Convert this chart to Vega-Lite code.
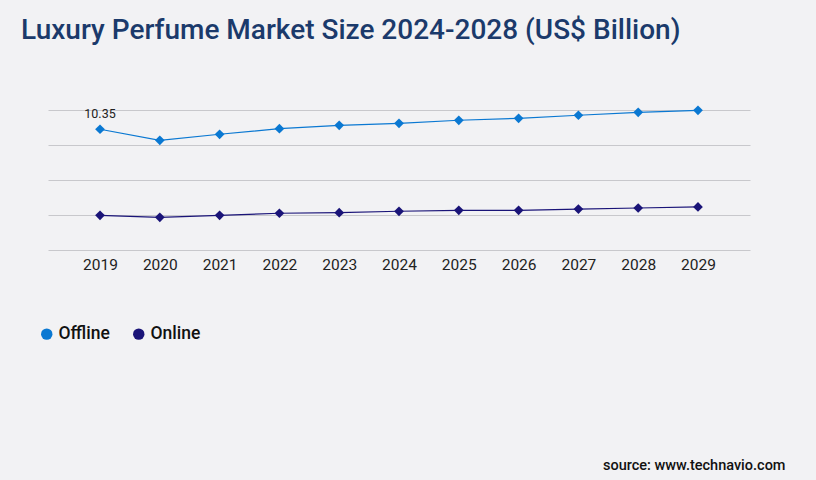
{
  "$schema": "https://vega.github.io/schema/vega-lite/v6.json",
  "width": 702,
  "height": 140,
  "autosize": {"type": "none"},
  "padding": {"left": 48, "top": 110, "right": 66, "bottom": 230},
  "background": "#f2f2f4",
  "title": {
    "text": "Luxury Perfume Market Size 2024-2028 (US$ Billion)",
    "anchor": "start",
    "frame": "group",
    "dx": -27,
    "offset": 60,
    "font": "Roboto",
    "fontSize": 28,
    "fontWeight": 500,
    "color": "#1b3a6b"
  },
  "data": {
    "values": [
      {"year": "2019", "segment": "Offline", "value": 10.35},
      {"year": "2020", "segment": "Offline", "value": 9.4},
      {"year": "2021", "segment": "Offline", "value": 9.92},
      {"year": "2022", "segment": "Offline", "value": 10.4},
      {"year": "2023", "segment": "Offline", "value": 10.69},
      {"year": "2024", "segment": "Offline", "value": 10.86},
      {"year": "2025", "segment": "Offline", "value": 11.12},
      {"year": "2026", "segment": "Offline", "value": 11.29},
      {"year": "2027", "segment": "Offline", "value": 11.55},
      {"year": "2028", "segment": "Offline", "value": 11.8},
      {"year": "2029", "segment": "Offline", "value": 11.97},
      {"year": "2019", "segment": "Online", "value": 2.97},
      {"year": "2020", "segment": "Online", "value": 2.8},
      {"year": "2021", "segment": "Online", "value": 2.97},
      {"year": "2022", "segment": "Online", "value": 3.15},
      {"year": "2023", "segment": "Online", "value": 3.2},
      {"year": "2024", "segment": "Online", "value": 3.32},
      {"year": "2025", "segment": "Online", "value": 3.4},
      {"year": "2026", "segment": "Online", "value": 3.4},
      {"year": "2027", "segment": "Online", "value": 3.51},
      {"year": "2028", "segment": "Online", "value": 3.6},
      {"year": "2029", "segment": "Online", "value": 3.69}
    ]
  },
  "encoding": {
    "x": {
      "field": "year",
      "type": "ordinal",
      "scale": {"type": "point", "padding": 0.87},
      "axis": {
        "title": "source: www.technavio.com",
        "titleX": 737,
        "titleY": 222,
        "titleAlign": "right",
        "titleBaseline": "bottom",
        "titleFont": "Roboto",
        "titleFontSize": 14.5,
        "titleFontWeight": 500,
        "titleColor": "#111111",
        "labelAngle": 0,
        "labelFont": "Roboto",
        "labelFontSize": 15.5,
        "labelColor": "#222222",
        "labelPadding": 7,
        "ticks": false,
        "domain": false,
        "grid": false
      }
    },
    "y": {
      "field": "value",
      "type": "quantitative",
      "scale": {"domain": [0, 12]},
      "axis": {
        "title": null,
        "values": [0, 3, 6, 9, 12],
        "labels": false,
        "ticks": false,
        "domain": false,
        "gridColor": "#c8c8cc",
        "gridWidth": 1
      }
    },
    "color": {
      "field": "segment",
      "type": "nominal",
      "scale": {"domain": ["Offline", "Online"], "range": ["#0a78d2", "#1a1478"]},
      "legend": {
        "title": null,
        "orient": "none",
        "direction": "horizontal",
        "legendX": -10,
        "legendY": 215,
        "symbolType": "circle",
        "symbolSize": 130,
        "symbolStrokeWidth": 0,
        "labelFont": "Roboto",
        "labelFontSize": 17.5,
        "labelFontWeight": 500,
        "labelColor": "#111111",
        "labelOffset": 3,
        "columnPadding": 20
      }
    }
  },
  "layer": [
    {
      "mark": {"type": "line", "strokeWidth": 1.2},
      "encoding": {"detail": {"field": "segment"}}
    },
    {
      "mark": {"type": "point", "shape": "diamond", "filled": true, "size": 95, "opacity": 1}
    },
    {
      "transform": [{"filter": "datum.year == '2019' && datum.segment == 'Offline'"}],
      "mark": {"type": "text", "dy": -15, "font": "Roboto", "fontSize": 12.5, "color": "#222222"},
      "encoding": {
        "text": {"field": "value", "type": "quantitative", "format": ".2f"},
        "color": {"value": "#222222"}
      }
    }
  ],
  "config": {"view": {"stroke": null}}
}
